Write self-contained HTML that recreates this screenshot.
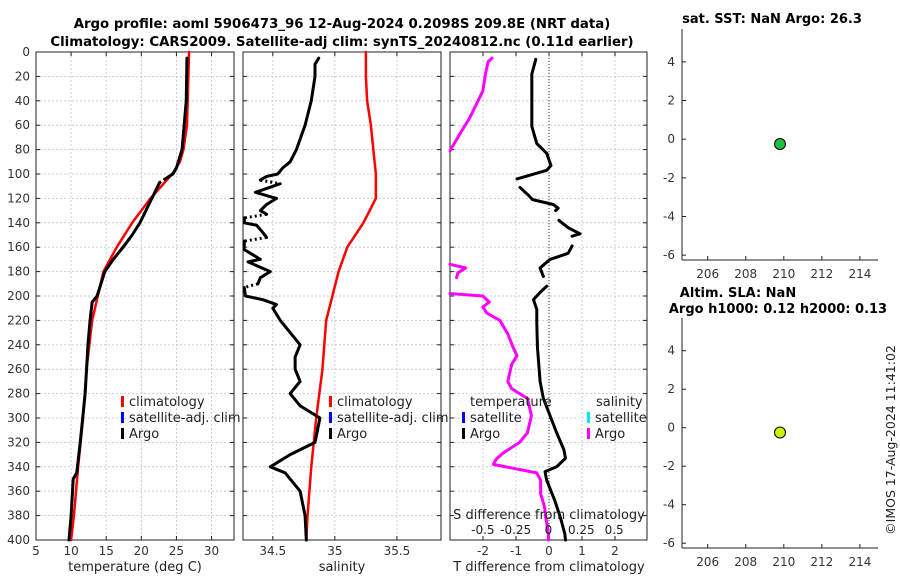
<!DOCTYPE html>
<html><head><meta charset="utf-8"><style>
body{margin:0;background:#fff;}
svg{display:block;font-family:"DejaVu Sans","Liberation Sans",sans-serif;}
</style></head><body>
<svg id="c" width="900" height="580" viewBox="0 0 900 580"></svg>
<script>
// ---- data ----
const depthTicks=[0,20,40,60,80,100,120,140,160,180,200,220,240,260,280,300,320,340,360,380,400];
const tTicks=[5,10,15,20,25,30];
const sTicks=[34.5,35,35.5];
const dtTicks=[-2,-1,0,1,2];
const dsTicks=[-0.5,-0.25,0,0.25,0.5];
const dsTickLabels=["-0.5","-0.25","0","0.25","0.5"];
const lonTicks=[206,208,210,212,214];
const yTicksSmall=[4,2,0,-2,-4,-6];

const climDepth=[0,20,40,60,80,90,100,120,140,160,180,200,220,260,300,340,380,400];
const climT=[26.8,26.7,26.6,26.5,26.0,25.5,24.4,21.3,18.7,16.5,14.6,13.8,13.0,12.2,11.7,11.0,10.4,10.0];
const climS=[35.25,35.25,35.26,35.29,35.31,35.32,35.33,35.33,35.23,35.1,35.03,34.98,34.93,34.9,34.85,34.81,34.78,34.77];

const argoTDepth=[5,40,80,95,100,104,null,107,120,140,150,160,170,180,200,205,220,240,280,320,345,350,380,400];
const argoT=[26.5,26.4,25.8,25.0,24.5,23.4,null,22.6,21.5,19.8,18.7,17.4,16.0,14.8,13.7,13.0,12.7,12.4,12.0,11.3,10.8,10.3,10.0,9.7];

const argoSDepth=[5,10,20,40,60,80,90,95,100,102,105,null,108,115,120,125,130,133,null,136,140,142,148,152,null,155,162,165,170,172,180,185,190,null,193,200,203,207,210,220,230,240,250,260,270,280,290,300,320,330,340,345,360,380,400];
const argoS=[34.87,34.84,34.84,34.81,34.76,34.69,34.64,34.58,34.54,34.45,34.4,null,34.56,34.36,34.53,34.45,34.4,34.45,null,34.27,34.27,34.37,34.42,34.45,null,34.27,34.27,34.32,34.4,34.3,34.48,34.4,34.38,null,34.27,34.28,34.42,34.53,34.5,34.56,34.64,34.72,34.68,34.68,34.72,34.64,34.72,34.88,34.84,34.64,34.48,34.6,34.72,34.76,34.77];

const dTDepth=[6,18,61,75,83,93,97,104,null,111,118,121,125,128,130,null,138,144,149,151,null,159,165,170,177,184,null,192,197,203,211,222,242,270,284,298,312,326,333,340,344,351,368,382,395,400];
const dT=[-0.4,-0.52,-0.52,-0.37,-0.07,0.06,-0.07,-0.97,null,-0.88,-0.6,-0.5,0.13,0.28,0.2,null,0.3,0.58,0.94,0.7,null,0.7,0.58,0.03,-0.27,-0.17,null,-0.07,-0.27,-0.47,-0.37,-0.37,-0.35,-0.27,-0.17,0.03,0.23,0.45,0.5,0.23,-0.12,-0.07,0.18,0.35,0.48,0.5];

const dSDepth=[5,8,18,32,43,54,68,81,null,174,177,181,185,null,198,200,205,209,214,220,231,242,249,256,270,276,284,298,312,320,329,334,338,345,351,362,373,382,395,400];
const dS=[-0.43,-0.46,-0.48,-0.5,-0.55,-0.6,-0.68,-0.75,null,-0.75,-0.63,-0.69,-0.7,null,-0.75,-0.5,-0.45,-0.5,-0.47,-0.37,-0.31,-0.27,-0.24,-0.28,-0.31,-0.28,-0.16,-0.13,-0.16,-0.22,-0.35,-0.4,-0.42,-0.09,-0.06,-0.06,-0.03,-0.02,0,0];

const sstPoint=[209.8,-0.25];
const slaPoint=[209.8,-0.25];

// ---- helpers ----
const NS="http://www.w3.org/2000/svg";
const svg=document.getElementById('c');
function el(tag,attrs,parent,text){const e=document.createElementNS(NS,tag);for(const k in attrs)e.setAttribute(k,attrs[k]);if(text!==undefined)e.textContent=text;(parent||svg).appendChild(e);return e;}
const TOP=52,BOT=540;
const yD=d=>TOP+(d/400)*(BOT-TOP);
function lin(d0,d1,r0,r1){return v=>r0+(v-d0)/(d1-d0)*(r1-r0);}
const P1={l:36,r:234},P2={l:243,r:441},P3={l:450,r:647};
const xT=lin(5,33.2,P1.l,P1.r);
const xS=lin(34.26,35.855,P2.l,P2.r);
const xDT=lin(-3,2.97,P3.l,P3.r);
const xDS=lin(-0.75,0.75,P3.l,P3.r);

function panelFrame(p,xs,xticks,labels,name){
  const g=el('g',{},svg);
  
  
  xticks.forEach(v=>{const x=xs(v);el('line',{x1:x,x2:x,y1:TOP,y2:BOT,stroke:'#b8c4e0','stroke-width':0.8,'stroke-dasharray':'2,2'},g);});
  depthTicks.forEach(d=>{const y=yD(d);el('line',{x1:p.l,x2:p.r,y1:y,y2:y,stroke:'#b8c4e0','stroke-width':0.8,'stroke-dasharray':'2,2'},g);
    el('line',{x1:p.l,x2:p.l+4,y1:y,y2:y,stroke:'#222'},g);el('line',{x1:p.r-4,x2:p.r,y1:y,y2:y,stroke:'#222'},g);});
  xticks.forEach((v,i)=>{const x=xs(v);el('line',{x1:x,x2:x,y1:BOT-4,y2:BOT,stroke:'#222'},g);el('line',{x1:x,x2:x,y1:TOP,y2:TOP+4,stroke:'#222'},g);
    const t=el('text',{x:x,y:BOT+15,'text-anchor':'middle','font-size':12,fill:'#333'},g,labels[i]);
    });
  el('rect',{x:p.l,y:TOP,width:p.r-p.l,height:BOT-TOP,fill:'none',stroke:'#222','stroke-width':1},g);
  return g;
}
function series(depths,vals,xs,color,width,name,dotted){
  const g=el('g',{},svg);
  
  
  let seg=[],segs=[];
  for(let i=0;i<depths.length;i++){if(vals[i]===null){if(seg.length)segs.push(seg);seg=[];}else seg.push([xs(vals[i]),yD(depths[i])]);}
  if(seg.length)segs.push(seg);
  segs.forEach((s,k)=>{
    el('polyline',{points:s.map(p=>p.join(',')).join(' '),fill:'none',stroke:color,'stroke-width':width,'stroke-linejoin':'round','stroke-linecap':'round'},g);
    if(dotted&&k<segs.length-1){const a=s[s.length-1],b=segs[k+1][0];
      el('line',{x1:a[0],y1:a[1],x2:b[0],y2:b[1],stroke:color,'stroke-width':width,'stroke-dasharray':'2,3'},g);}
  });
  return g;
}
function legendItem(x,y,color,label,name){
  const g=el('g',{},svg);
  
  
  el('rect',{x:x,y:y-10,width:3,height:11,fill:color},g);
  el('text',{x:x+8,y:y,'font-size':13,fill:'#222'},g,label);
}

// titles
const t1=el('text',{x:342,y:28,'text-anchor':'middle','font-size':13.3,'font-weight':'bold',fill:'#000'},svg,'Argo profile: aoml 5906473_96 12-Aug-2024 0.2098S 209.8E (NRT data)');

const t2=el('text',{x:342,y:46,'text-anchor':'middle','font-size':13.3,'font-weight':'bold',fill:'#000'},svg,'Climatology: CARS2009. Satellite-adj clim: synTS_20240812.nc (0.11d earlier)');


// panel 1
panelFrame(P1,xT,tTicks,tTicks.map(String),'temperature-panel');
depthTicks.forEach(d=>{const t=el('text',{x:30,y:yD(d)+4,'text-anchor':'end','font-size':12,fill:'#333'},svg,String(d));
  });
series(climDepth,climT,xT,'#ff0000',2.5,'temperature-climatology-line',false);
series(argoTDepth,argoT,xT,'#000',3,'temperature-argo-line',true);
const xl1=el('text',{x:135,y:571,'text-anchor':'middle','font-size':13,fill:'#222'},svg,'temperature (deg C)');

legendItem(121,406,'#ff0000','climatology','legend-climatology');
legendItem(121,422,'#0000ff','satellite-adj. clim','legend-satellite-adj');
legendItem(121,438,'#000','Argo','legend-argo');

// panel 2
panelFrame(P2,xS,sTicks,["34.5","35","35.5"],'salinity-panel');
series(climDepth,climS,xS,'#ff0000',2.5,'salinity-climatology-line',false);
series(argoSDepth,argoS,xS,'#000',3,'salinity-argo-line',true);
const xl2=el('text',{x:342,y:571,'text-anchor':'middle','font-size':13,fill:'#222'},svg,'salinity');

legendItem(329,406,'#ff0000','climatology','legend-climatology-2');
legendItem(329,422,'#0000ff','satellite-adj. clim','legend-satellite-adj-2');
legendItem(329,438,'#000','Argo','legend-argo-2');

// panel 3
panelFrame(P3,xDT,dtTicks,dtTicks.map(String),'difference-panel');
const zl=el('line',{x1:xDT(0),x2:xDT(0),y1:TOP,y2:BOT,stroke:'#2a4a1a','stroke-width':1,'stroke-dasharray':'1,2'},svg);

series(dSDepth,dS,xDS,'#ff00ff',3,'salinity-difference-line',false);
series(dTDepth,dT,xDT,'#000',3,'temperature-difference-line',false);
const xl3=el('text',{x:549,y:571,'text-anchor':'middle','font-size':13,fill:'#222'},svg,'T difference from climatology');

const sdt=el('text',{x:549,y:519,'text-anchor':'middle','font-size':13,fill:'#222'},svg,'S difference from climatology');

dsTicks.forEach((v,i)=>{const t=el('text',{x:xDS(v),y:534,'text-anchor':'middle','font-size':12,fill:'#222'},svg,dsTickLabels[i]);
  });
const lt=el('text',{x:470,y:406,'font-size':13,fill:'#222'},svg,'temperature');
const ls=el('text',{x:596,y:406,'font-size':13,fill:'#222'},svg,'salinity');
legendItem(462,422,'#0000ff','satellite','legend-t-satellite');
legendItem(462,438,'#000','Argo','legend-t-argo');
legendItem(587,422,'#00e5ee','satellite','legend-s-satellite');
legendItem(587,438,'#ff00ff','Argo','legend-s-argo');

// small right panels
function smallPanel(top,bot,pt,color,titles,name){
  const g=el('g',{},svg);
  
  
  const L=682,R=878;
  const xs=lin(204.65,214.95,L,R);
  const ys=lin(5.7,-6.25,top,bot);
  el('line',{x1:L,x2:L,y1:top,y2:bot,stroke:'#222'},g);
  el('line',{x1:L,x2:R,y1:bot,y2:bot,stroke:'#222'},g);
  yTicksSmall.forEach(v=>{const y=ys(v);el('line',{x1:L,x2:L+4,y1:y,y2:y,stroke:'#222'},g);
    el('text',{x:L-7,y:y+4,'text-anchor':'end','font-size':12,fill:'#333'},g,String(v));});
  lonTicks.forEach(v=>{const x=xs(v);el('line',{x1:x,x2:x,y1:bot-4,y2:bot,stroke:'#222'},g);
    el('text',{x:x,y:bot+18,'text-anchor':'middle','font-size':12,fill:'#333'},g,String(v));});
  titles.forEach(t=>el('text',{x:t[0],y:t[1],'text-anchor':'middle','font-size':13,'font-weight':'bold',fill:'#000'},g,t[2]));
  const c=el('circle',{cx:xs(pt[0]),cy:ys(pt[1]),r:5.5,fill:color,stroke:'#000','stroke-width':1},g);
  
}
smallPanel(29,260,sstPoint,'#22c040',[[772,23,'sat. SST: NaN Argo: 26.3']],'sst-panel');
smallPanel(318,548,slaPoint,'#ccf000',[[738,297,'Altim. SLA: NaN'],[778,313,'Argo h1000: 0.12 h2000: 0.13']],'sla-panel');

const cr=el('text',{x:0,y:0,'text-anchor':'middle','font-size':12.5,fill:'#222',transform:'translate(895,440) rotate(-90)'},svg,'©IMOS 17-Aug-2024 11:41:02');

</script>
</body></html>
